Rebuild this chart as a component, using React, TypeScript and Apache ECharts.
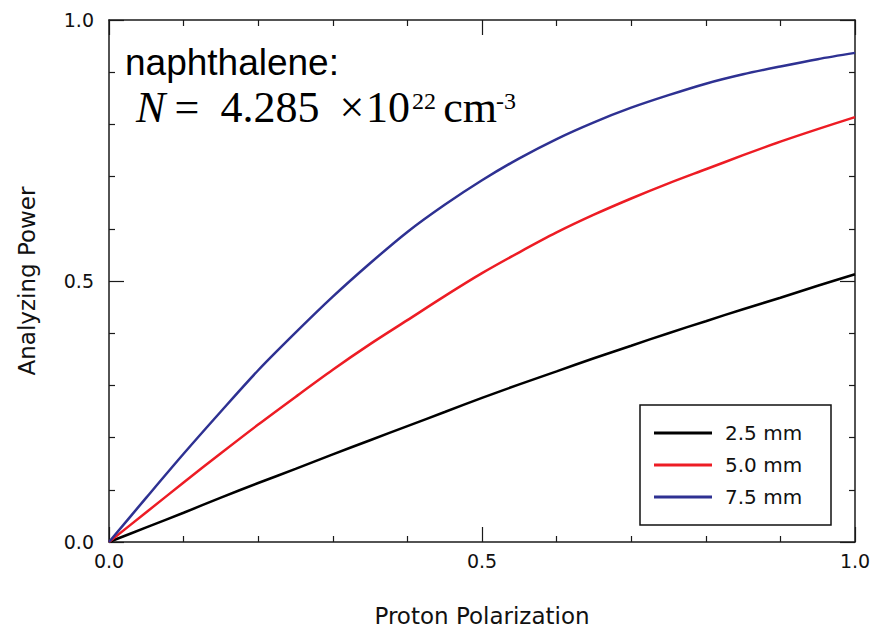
import React, { useEffect, useRef } from "react";
import * as echarts from "echarts";

const polarization = [0, 0.05, 0.1, 0.15, 0.2, 0.25, 0.3, 0.35, 0.4, 0.45, 0.5, 0.55, 0.6, 0.65, 0.7, 0.75, 0.8, 0.85, 0.9, 0.95, 1.0];
const power25 = [0, 0.028, 0.056, 0.085, 0.113, 0.140, 0.168, 0.195, 0.222, 0.249, 0.276, 0.302, 0.327, 0.352, 0.376, 0.400, 0.423, 0.446, 0.468, 0.491, 0.513];
const power50 = [0, 0.057, 0.114, 0.170, 0.225, 0.278, 0.330, 0.379, 0.425, 0.471, 0.515, 0.555, 0.593, 0.627, 0.658, 0.687, 0.714, 0.741, 0.767, 0.791, 0.814];
const power75 = [0, 0.085, 0.169, 0.250, 0.329, 0.401, 0.470, 0.534, 0.594, 0.646, 0.693, 0.735, 0.772, 0.804, 0.832, 0.856, 0.878, 0.896, 0.911, 0.925, 0.937];
const seriesNames = ["2.5 mm", "5.0 mm", "7.5 mm"];
const seriesColors = ["#000000", "#ed1c24", "#2e3192"];
const tickLabels = ["0.0", "0.5", "1.0"];

const AX = "DejaVu Sans";

function pairs(ys: number[]) {
  return polarization.map((x, i) => [x, ys[i]]);
}

function axisCommon(showLabels: boolean, isX: boolean) {
  return {
    type: "value" as const,
    min: 0,
    max: 1,
    interval: 0.5,
    axisLine: { show: true, onZero: false, lineStyle: { color: "#1a1a1a", width: 1.5 } },
    axisTick: { show: true, inside: true, length: 15, lineStyle: { color: "#1a1a1a", width: 1.2 } },
    minorTick: { show: true, splitNumber: 5, length: 6, lineStyle: { color: "#1a1a1a", width: 1.2 } },
    splitLine: { show: false },
    axisLabel: {
      show: showLabels,
      formatter: (v: number) => tickLabels[Math.round(v * 2)] ?? v.toFixed(1),
      fontFamily: AX,
      fontSize: 19,
      color: "#111",
      margin: isX ? 9 : 15,
    },
  };
}

const serif = "Liberation Serif";

export default function App() {
  const ref = useRef<HTMLDivElement>(null);
  useEffect(() => {
    if (!ref.current) return;
    const chart = echarts.init(ref.current, undefined, { renderer: "svg" });
    const allData = [power25, power50, power75];
    const eqMid = 107;
    const supMid = 101;
    const big = `44px '${serif}'`;
    const small = `24px '${serif}'`;
    const eq = (text: string, x: number, font: string, y: number, align = "center") => ({
      type: "text",
      x,
      y,
      style: { text, font, fill: "#000", verticalAlign: "middle", align, lineHeight: font === small ? 22 : 36 },
    });
    chart.setOption({
      animation: false,
      backgroundColor: "#ffffff",
      grid: { left: 109, right: 17, top: 20, bottom: 86, containLabel: false, outerBoundsMode: "none" },
      xAxis: [
        {
          ...axisCommon(true, true),
          position: "bottom",
          name: "Proton Polarization",
          nameLocation: "middle",
          nameGap: 63,
          nameTextStyle: { fontFamily: AX, fontSize: 23, lineHeight: 22, color: "#111" },
        },
        { ...axisCommon(false, true), position: "top" },
      ],
      yAxis: [
        {
          ...axisCommon(true, false),
          position: "left",
          name: "Analyzing Power",
          nameLocation: "middle",
          nameGap: 71,
          nameTextStyle: { fontFamily: AX, fontSize: 23, color: "#111" },
        },
        { ...axisCommon(false, false), position: "right" },
      ],
      legend: {
        orient: "vertical",
        left: 654,
        top: 423,
        padding: 0,
        itemGap: 12,
        itemWidth: 58,
        itemHeight: 3,
        icon: "rect",
        data: seriesNames,
        textStyle: { fontFamily: AX, fontSize: 20, lineHeight: 20, color: "#111", padding: [0, 0, 0, 8] },
      },
      graphic: [
        {
          type: "rect",
          z: 1,
          shape: { x: 640, y: 405, width: 191, height: 120 },
          style: { fill: "#ffffff", stroke: "#111", lineWidth: 1.5 },
        },
        {
          type: "text",
          x: 125,
          y: 62,
          style: { text: "naphthalene:", font: "37px 'Liberation Sans'", lineHeight: 32, fill: "#000", verticalAlign: "middle" },
        },
        eq("N", 136, `italic ${big}`, eqMid, "left"),
        eq("=", 187, big, eqMid),
        eq("4.285", 270, big, eqMid),
        eq("×", 352, big, eqMid),
        eq("10", 388, big, eqMid),
        eq("22", 424, small, supMid),
        eq("cm", 470, big, eqMid),
        eq("-3", 506, small, supMid),
      ],
      series: allData.map((d, i) => ({
        name: seriesNames[i],
        type: "line",
        data: pairs(d),
        smooth: 0.3,
        showSymbol: false,
        symbol: "none",
        z: 3,
        color: seriesColors[i],
        lineStyle: { color: seriesColors[i], width: 2.5 },
      })),
    });
    return () => chart.dispose();
  }, []);
  return (
    <div
      ref={ref}
      style={{ position: "absolute", left: 0, top: 0, width: 872, height: 628 }}
    />
  );
}
